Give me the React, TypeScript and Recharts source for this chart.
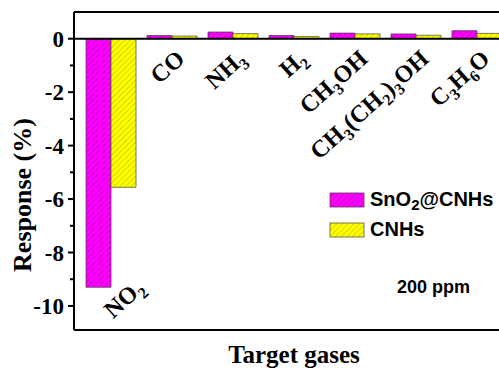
import React from 'react';
import { BarChart, Bar, XAxis, YAxis, ReferenceLine, LabelList, Customized } from 'recharts';

const categories = ['NO2', 'CO', 'NH3', 'H2', 'CH3OH', 'CH3(CH2)3OH', 'C3H6O'];
const sno2Values = [-9.3, 0.12, 0.25, 0.12, 0.21, 0.18, 0.3];
const cnhsValues = [-5.56, 0.1, 0.19, 0.08, 0.18, 0.13, 0.2];
const yTicks = [-10, -9, -8, -7, -6, -5, -4, -3, -2, -1, 0];
const majorTicks = [-10, -8, -6, -4, -2, 0];
const seriesNames = ['SnO2@CNHs', 'CNHs'];
const annotation = '200 ppm';
const xTitle = 'Target gases';
const yTitle = 'Response (%)';

const data = categories.map((name, i) => ({ name, sno2: sno2Values[i], cnhs: cnhsValues[i] }));

const SERIF = "'Liberation Serif', 'Times New Roman', serif";
const SANS = "'Liberation Sans', Arial, sans-serif";
const ANGLE = (-42 * Math.PI) / 180;

function renderChem(s: string, subSize: number, shift: number) {
  const parts = s.match(/\d+|\D+/g) || [];
  let offset = 0;
  return parts.map((p, i) => {
    const isSub = /^\d+$/.test(p);
    const target = isSub ? shift : 0;
    const dy = target - offset;
    offset = target;
    return (
      <tspan key={i} dy={dy} fontSize={isSub ? subSize : undefined}>
        {p}
      </tspan>
    );
  });
}

const CatLabel = (props: any) => {
  const vb = props.viewBox || {};
  const x = Number(props.x ?? vb.x);
  const y = Number(props.y ?? vb.y);
  const width = Number(props.width ?? vb.width);
  const height = Number(props.height ?? vb.height);
  const bottom = Math.max(y, y + height);
  const center = x + width;
  const name = typeof props.value === 'string' ? props.value : categories[props.index];
  const v = sno2Values[categories.indexOf(name)];
  let ax: number, ay: number, anchor: string;
  if (v < 0) {
    ax = center + 2;
    ay = bottom + 32;
    anchor = 'start';
  } else {
    ax = center + 14;
    ay = bottom + 22;
    anchor = 'end';
  }
  const c = Math.cos(ANGLE).toFixed(4);
  const s = Math.sin(ANGLE).toFixed(4);
  const ns = (-Math.sin(ANGLE)).toFixed(4);
  return (
    <g transform={`matrix(${c} ${s} ${ns} ${c} ${ax.toFixed(2)} ${ay.toFixed(2)})`}>
      <text x={0} y={0} textAnchor={anchor} fontFamily={SERIF} fontWeight="bold" fontSize={24} fill="#000">
        {renderChem(name, 16, 6)}
      </text>
    </g>
  );
};

const YTick = (props: any) => {
  const { y, payload } = props;
  const v = payload.value;
  const major = majorTicks.includes(v);
  const ax = 74;
  return (
    <g>
      <line x1={ax - (major ? 6 : 4)} x2={ax} y1={y} y2={y} stroke="#000" strokeWidth={2} />
      {major && (
        <text x={ax - 10} y={y} dy={8} textAnchor="end" fontFamily={SERIF} fontWeight="bold" fontSize={23} fill="#000">
          {v}
        </text>
      )}
    </g>
  );
};

const Decorations = () => (
  <g>
    <text x={294} y={363} textAnchor="middle" fontFamily={SERIF} fontWeight="bold" fontSize={25} fill="#000">
      {xTitle}
    </text>
    <g transform="translate(31 195) rotate(-90)">
      <text x={0} y={0} textAnchor="middle" fontFamily={SERIF} fontWeight="bold" fontSize={26} fill="#000">
        {yTitle}
      </text>
    </g>
    <rect x={330} y={193} width={34} height={14} fill="url(#hatchMag)" stroke="#5a3a5a" strokeWidth={0.8} />
    <text x={370} y={206} fontFamily={SANS} fontWeight="bold" fontSize={20} fill="#000">
      {renderChem(seriesNames[0], 15, 4)}
    </text>
    <rect x={330} y={223} width={34} height={14} fill="url(#hatchYel)" stroke="#5a5a3a" strokeWidth={0.8} />
    <text x={370} y={236} fontFamily={SANS} fontWeight="bold" fontSize={20} fill="#000">
      {seriesNames[1]}
    </text>
    <text x={397} y={293} fontFamily={SANS} fontWeight="bold" fontSize={18} fill="#000">
      {annotation}
    </text>
  </g>
);

export default function App() {
  return (
    <div style={{ position: 'absolute', left: 0, top: 0, width: 499, height: 370, overflow: 'hidden', background: '#fff' }}>
      <BarChart
        width={507}
        height={370}
        data={data}
        margin={{ top: 12, right: 0, bottom: 0, left: 0 }}
        barGap={0}
        barCategoryGap={6}
      >
        <defs>
          <pattern id="hatchMag" patternUnits="userSpaceOnUse" width={4} height={4} patternTransform="rotate(45)">
            <rect width={4} height={4} fill="#ff00ff" />
            <line x1={0} y1={0} x2={0} y2={4} stroke="#b000b0" strokeWidth={1.2} />
          </pattern>
          <pattern id="hatchYel" patternUnits="userSpaceOnUse" width={4} height={4} patternTransform="rotate(45)">
            <rect width={4} height={4} fill="#ffff00" />
            <line x1={0} y1={0} x2={0} y2={4} stroke="#b8b800" strokeWidth={1.2} />
          </pattern>
        </defs>
        <XAxis
          dataKey="name"
          tick={false}
          tickLine={false}
          axisLine={{ stroke: '#000', strokeWidth: 2 }}
          height={40}
          padding={{ left: 6, right: 0 }}
        />
        <YAxis
          width={74}
          domain={[-10.9, 1.0]}
          ticks={yTicks}
          interval={0}
          allowDataOverflow
          tickLine={false}
          tickSize={0}
          tickMargin={0}
          tick={<YTick />}
          axisLine={{ stroke: '#000', strokeWidth: 2 }}
        />
        <ReferenceLine y={1.0} stroke="#000" strokeWidth={2} ifOverflow="visible" />
        <ReferenceLine y={0} stroke="#000" strokeWidth={2} />
        <Bar dataKey="sno2" isAnimationActive={false} fill="url(#hatchMag)" stroke="#5a3a5a" strokeWidth={0.8}>
          <LabelList dataKey="name" content={<CatLabel />} />
        </Bar>
        <Bar dataKey="cnhs" isAnimationActive={false} fill="url(#hatchYel)" stroke="#5a5a3a" strokeWidth={0.8} />
        <Customized component={<Decorations />} />
      </BarChart>
    </div>
  );
}
